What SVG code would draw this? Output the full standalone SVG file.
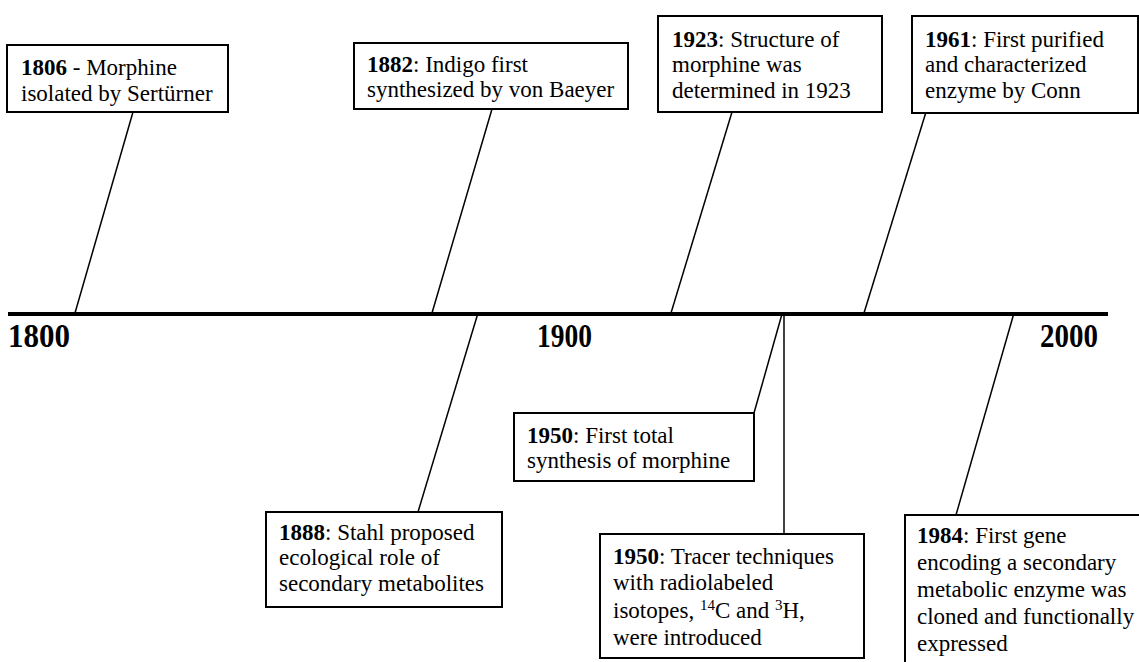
<svg xmlns="http://www.w3.org/2000/svg" width="1139" height="662" viewBox="0 0 1139 662">
<style>
.box{fill:#fff;stroke:#000;stroke-width:2}
.t{font-family:"Liberation Serif","Times New Roman",serif;font-size:23px;fill:#000}
.b{font-weight:bold}
.c{stroke:#000;stroke-width:1.5;fill:none}
.yr{font-family:"Liberation Serif","Times New Roman",serif;font-size:34px;font-weight:bold;fill:#000}
.sup{font-size:15px}
</style>
<rect width="1139" height="662" fill="#fff"/>
<g id="connectors">
<line class="c" x1="133" y1="112" x2="75" y2="313"/>
<line class="c" x1="492" y1="109" x2="432" y2="313"/>
<line class="c" x1="732" y1="112" x2="671" y2="313"/>
<line class="c" x1="926" y1="112" x2="864" y2="313"/>
<line class="c" x1="478" y1="313" x2="418" y2="512"/>
<line class="c" x1="782" y1="314" x2="754" y2="413"/>
<line class="c" x1="784" y1="314" x2="784" y2="534"/>
<line class="c" x1="1014" y1="313" x2="956" y2="515"/>
</g>
<g id="timeline">
<line x1="8" y1="314" x2="1108" y2="314" stroke="#000" stroke-width="4"/>
<text class="yr" x="8" y="347" textLength="62" lengthAdjust="spacingAndGlyphs">1800</text>
<text class="yr" x="537" y="347" textLength="55" lengthAdjust="spacingAndGlyphs">1900</text>
<text class="yr" x="1040" y="347" textLength="58" lengthAdjust="spacingAndGlyphs">2000</text>
</g>
<g id="n1806">
<rect class="box" x="7" y="45" width="221" height="67"/>
<text class="t" x="21" y="75"><tspan class="b">1806</tspan> - Morphine</text>
<text class="t" x="21" y="101">isolated by Sertürner</text>
</g>
<g id="n1882">
<rect class="box" x="354" y="43" width="274" height="66"/>
<text class="t" x="367" y="72"><tspan class="b">1882</tspan>: Indigo first</text>
<text class="t" x="367" y="97">synthesized by von Baeyer</text>
</g>
<g id="n1923">
<rect class="box" x="658" y="16" width="224" height="96"/>
<text class="t" x="672" y="47"><tspan class="b">1923</tspan>: Structure of</text>
<text class="t" x="672" y="72">morphine was</text>
<text class="t" x="672" y="98">determined in 1923</text>
</g>
<g id="n1961">
<rect class="box" x="912" y="16" width="226" height="97"/>
<text class="t" x="925" y="47"><tspan class="b">1961</tspan>: First purified</text>
<text class="t" x="925" y="72">and characterized</text>
<text class="t" x="925" y="98">enzyme by Conn</text>
</g>
<g id="n1888">
<rect class="box" x="266" y="512" width="236" height="95"/>
<text class="t" x="279" y="540"><tspan class="b">1888</tspan>: Stahl proposed</text>
<text class="t" x="279" y="565">ecological role of</text>
<text class="t" x="279" y="591">secondary metabolites</text>
</g>
<g id="n1950a">
<rect class="box" x="514" y="413" width="240" height="68"/>
<text class="t" x="527" y="443"><tspan class="b">1950</tspan>: First total</text>
<text class="t" x="527" y="468">synthesis of morphine</text>
</g>
<g id="n1950b">
<rect class="box" x="600" y="534" width="264" height="124"/>
<text class="t" x="613" y="564"><tspan class="b">1950</tspan>: Tracer techniques</text>
<text class="t" x="613" y="590">with radiolabeled</text>
<text class="t" x="613" y="618">isotopes, <tspan class="sup" dy="-8">14</tspan><tspan dy="8">C and </tspan><tspan class="sup" dy="-8">3</tspan><tspan dy="8">H,</tspan></text>
<text class="t" x="613" y="645">were introduced</text>
</g>
<g id="n1984">
<rect class="box" x="905" y="515" width="245" height="160"/>
<text class="t" x="917" y="543"><tspan class="b">1984</tspan>: First gene</text>
<text class="t" x="917" y="570">encoding a secondary</text>
<text class="t" x="917" y="597">metabolic enzyme was</text>
<text class="t" x="917" y="624">cloned and functionally</text>
<text class="t" x="917" y="651">expressed</text>
</g>
</svg>
